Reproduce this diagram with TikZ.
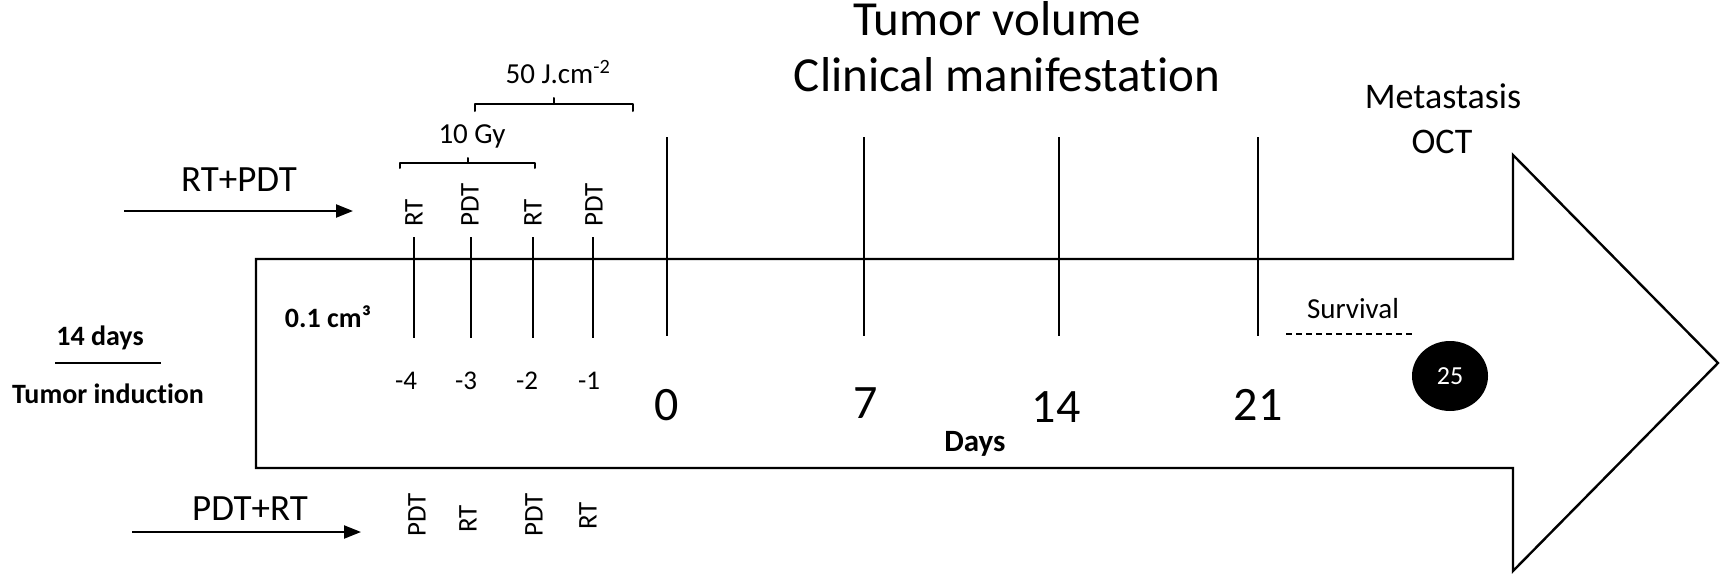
\documentclass[tikz,border=0pt]{standalone}
\usepackage{fontspec}
\setmainfont[Ligatures=NoCommon]{Carlito}
\usetikzlibrary{arrows.meta,shapes.geometric}
\newcommand{\tnolig}{t\kern0pt }
\begin{document}
\begin{tikzpicture}[x=1pt,y=-1pt,
  lbl/.style={inner sep=0pt, anchor=base},
  fs/.style={font=\fontsize{#1}{#1}\selectfont},
  fsb/.style={font=\fontsize{#1}{#1}\selectfont\bfseries},
  rot/.style={inner sep=0pt, rotate=90, anchor=west, font=\fontsize{27}{27}\selectfont},
  outline/.style={line width=2.4pt, line join=miter},
  tick/.style={line width=2.2pt},
  brace/.style={line width=2pt, line join=round, line cap=round},
  harrow/.style={line width=2.2pt, -{Triangle[length=17pt,width=13pt]}},
]
\useasboundingbox (0,0) rectangle (1731,578);

% big arrow
\draw[outline] (256,259) -- (1513,259) -- (1513,155) -- (1718,363) -- (1513,571) -- (1513,468) -- (256,468) -- cycle;

% titles
\node[lbl, fs=49] (tv) at (997,36) {Tumor volume};
\node[lbl, fs=49] (cm) at (1007,92) {Clinical manifesta\tnolig ion};
\node[lbl, fs=36] (met) at (1443,108) {Metastasis};
\node[lbl, fs=36] (oct) at (1442,153) {OCT};

% treatment ticks
\foreach \x in {414,471,533,593}{
  \draw[tick] (\x,237) -- (\x,338);
}
% day ticks
\foreach \x in {667,864,1059,1258}{
  \draw[tick] (\x,137) -- (\x,336);
}

% top rotated labels
\node[rot] (t1) at (414,227) {RT};
\node[rot] (t2) at (470,227) {PDT};
\node[rot] (t3) at (533,227) {RT};
\node[rot] (t4) at (594,227) {PDT};

% bottom rotated labels
\node[rot] (b1) at (417,537) {PDT};
\node[rot] (b2) at (468,533) {RT};
\node[rot] (b3) at (534,537) {PDT};
\node[rot] (b4) at (588,530) {RT};

% brackets
\draw[brace] (400,168) -- (400,163) -- (535,163) -- (535,168);
\draw[brace] (468,163) -- (468,158);
\draw[brace] (475,111) -- (475,104) -- (633,104) -- (633,111);
\draw[brace] (554,104) -- (554,98);
\node[lbl, fs=29] (gy) at (472,143) {10 Gy};
\node[lbl, fs=29] (jcm) at (558,83) {50 J.cm\textsuperscript{-2}};

% regimen arrows
\node[lbl, fs=37] (rtpdt) at (239,191) {RT+PDT};
\coordinate (a1s) at (124,211);
\coordinate (a1e) at (353,211);
\draw[harrow] (a1s) -- (a1e);
\node[lbl, fs=37] (pdtrt) at (250,520) {PDT+RT};
\coordinate (a2s) at (132,532);
\coordinate (a2e) at (361,532);
\draw[harrow] (a2s) -- (a2e);

% left labels
\node[lbl, fsb=28] (d14) at (100,345) {14 days};
\coordinate (u1) at (55,363);
\coordinate (u2) at (161,363);
\draw[line width=2pt] (u1) -- (u2);
\node[lbl, fsb=28] (ti) at (108,403) {Tumor induc\tnolig ion};
\node[lbl, fsb=28] (vol) at (328,327) {0.1 cm³};

% small day numbers
\node[lbl, fs=27] (m4) at (406,389) {-4};
\node[lbl, fs=27] (m3) at (466,389) {-3};
\node[lbl, fs=27] (m2) at (527,389) {-2};
\node[lbl, fs=27] (m1) at (589,389) {-1};

% day numbers
\node[lbl, fs=48] (d0) at (667,420) {0};
\node[lbl, fs=48] (d7) at (866,418) {7};
\node[lbl, fs=48] (d14n) at (1056,422) {14};
\node[lbl, fs=48] (d21) at (1258,420) {21};
\node[lbl, fsb=31] (days) at (975,451) {Days};

% survival
\node[lbl, fs=29] (surv) at (1353,318) {Survival};
\coordinate (s1) at (1286,334);
\coordinate (s2) at (1413,334);
\draw[line width=1.8pt, dash pattern=on 6pt off 4pt] (s1) -- (s2);
\node[ellipse, fill=black, minimum width=76pt, minimum height=70pt, inner sep=0pt,
      text=white, font=\fontsize{26}{26}\selectfont] (c25) at (1450,376) {25};
\end{tikzpicture}
\end{document}
